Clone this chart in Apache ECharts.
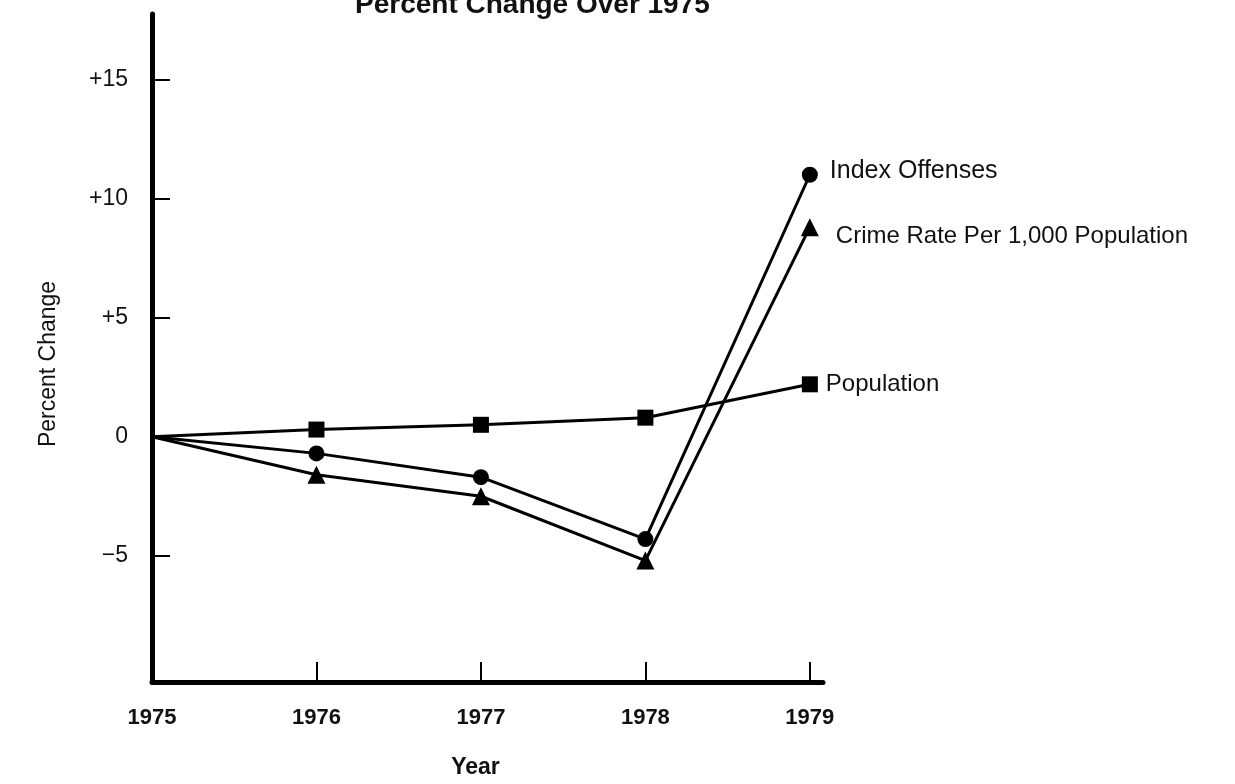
<!DOCTYPE html>
<html lang="en">
<head>
    <meta charset="UTF-8">
    <title>Percent Change Over 1975</title>
    <script src="https://cdn.jsdelivr.net/npm/echarts@6/dist/echarts.min.js"></script>
    <style>
        html, body { margin: 0; padding: 0; background: #fff; }
        #main { width: 1235px; height: 784px; }
    </style>
</head>
<body>
<div id="main"></div>
<script>
    // years on the x axis
    var years = [1975, 1976, 1977, 1978, 1979];
    // percent change over 1975
    var indexOffenses = [0, -0.7, -1.7, -4.3, 11.0];
    var crimeRate = [0, -1.6, -2.5, -5.2, 8.8];
    var population = [0, 0.3, 0.5, 0.8, 2.2];
    // y tick labels
    var yTicks = [-5, 0, 5, 10, 15];
    var yTickLabels = ['\u22125', '0', '+5', '+10', '+15'];

    var font = '"Liberation Sans", Arial, Helvetica, sans-serif';

    function pairs(values) {
        return values.map(function (v, i) { return [years[i], v]; });
    }

    function lineSeries(name, values, symbol, size, labelOpts) {
        return {
            name: name,
            type: 'line',
            data: pairs(values),
            // no marker at the 1975 base point
            symbol: function (value, params) {
                return params.dataIndex === 0 ? 'none' : symbol;
            },
            symbolSize: size,
            showAllSymbol: true,
            lineStyle: {color: '#000', width: 3},
            itemStyle: {color: '#000'},
            endLabel: Object.assign({
                show: true,
                formatter: name,
                color: '#111',
                fontSize: 24,
                fontFamily: font
            }, labelOpts),
            z: 3
        };
    }

    var myChart = echarts.init(document.getElementById('main'));

    var option = {
        animation: false,
        backgroundColor: '#fff',
        textStyle: {fontFamily: font, color: '#111'},
        title: {
            text: 'Percent Change Over 1975',
            left: 350,
            top: -14,
            textStyle: {fontSize: 28, fontWeight: 'bold', color: '#111', fontFamily: font}
        },
        grid: {left: 152, right: 412, top: 14, bottom: 97},
        xAxis: {
            type: 'value',
            min: 1975,
            max: 1979.08,
            name: 'Year',
            nameLocation: 'middle',
            nameGap: 74,
            nameTextStyle: {fontSize: 23, fontWeight: 'bold', color: '#111', padding: [0, 24, 0, 0]},
            splitLine: {show: false},
            axisLine: {onZero: false, lineStyle: {color: '#000', width: 5}},
            axisTick: {
                inside: true,
                length: 20,
                customValues: years.slice(1),
                lineStyle: {color: '#000', width: 2}
            },
            axisLabel: {
                customValues: years,
                margin: 25,
                fontSize: 22,
                fontWeight: 'bold',
                color: '#111',
                formatter: function (v) { return String(v); }
            }
        },
        yAxis: {
            type: 'value',
            min: -10.3,
            max: 17.75,
            name: 'Percent Change',
            nameLocation: 'middle',
            nameGap: 92,
            nameTextStyle: {fontSize: 23, color: '#111', padding: [0, 32, 0, 0]},
            splitLine: {show: false},
            axisLine: {show: true, lineStyle: {color: '#000', width: 5}},
            axisTick: {
                inside: true,
                length: 18,
                customValues: [-5, 5, 10, 15],
                lineStyle: {color: '#000', width: 2}
            },
            axisLabel: {
                customValues: yTicks,
                margin: 24,
                fontSize: 23,
                color: '#111',
                formatter: function (v) { return yTickLabels[yTicks.indexOf(v)]; }
            }
        },
        series: [
            lineSeries('Index Offenses', indexOffenses, 'circle', 16, {distance: 20, offset: [0, -4], fontSize: 25}),
            lineSeries('Crime Rate Per 1,000 Population', crimeRate, 'triangle', 18, {distance: 26, offset: [0, 9]}),
            lineSeries('Population', population, 'rect', 16, {distance: 16})
        ]
    };

    myChart.setOption(option);
</script>
</body>
</html>
